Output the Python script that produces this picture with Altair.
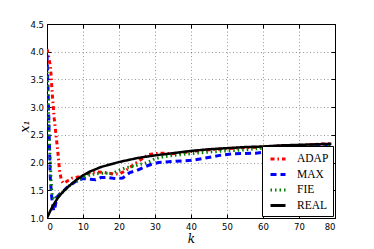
import altair as alt
import pandas as pd

series_names = ["ADAP", "MAX", "FIE", "REAL"]
series_colors = ["#ff0000", "#0000ff", "#008000", "#000000"]
series_dashes = [[4, 3, 1.5, 3], [6, 4], [1.5, 3], [1, 0]]

adap_k = [0, 0.5, 1, 1.5, 2, 2.5, 3, 3.5, 4, 4.5, 5, 6, 7, 8, 10, 12, 14, 16, 18, 20,
          22, 24, 26, 28, 30, 32, 35, 40, 45, 50, 55, 60, 65, 70, 75, 79]
adap_v = [4.05, 3.9, 3.7, 3.2, 2.8, 2.5, 2.2, 1.85, 1.68, 1.63, 1.64, 1.68, 1.72, 1.73, 1.76, 1.82,
          1.83, 1.82, 1.80, 1.79, 1.86, 1.96, 2.05, 2.14, 2.16, 2.17, 2.16, 2.20, 2.23, 2.25,
          2.27, 2.28, 2.30, 2.31, 2.33, 2.34]

max_k = [0, 0.3, 0.6, 0.9, 1.2, 1.5, 1.9, 2.3, 2.7, 3.5, 4.5, 5.5, 7, 8.5, 10, 12, 13.5, 15,
         17, 19, 21, 23, 25, 27, 29, 31, 35, 40, 43, 48, 52, 58, 62, 66, 70, 75, 79]
max_v = [3.95, 3.3, 2.5, 1.75, 1.45, 1.25, 1.13, 1.22, 1.37, 1.43, 1.48, 1.55, 1.62, 1.68, 1.71,
         1.70, 1.69, 1.73, 1.73, 1.71, 1.72, 1.82, 1.86, 1.92, 1.97, 2.0, 2.02, 2.04, 2.07, 2.13,
         2.16, 2.17, 2.20, 2.24, 2.27, 2.29, 2.30]

fie_k = [0, 0.3, 0.6, 0.9, 1.2, 1.5, 1.9, 2.5, 3.5, 5, 6.5, 8, 10, 12, 14, 16, 18, 20, 22, 24,
         26, 28, 30, 32, 35, 40, 45, 50, 55, 60, 65, 70, 75, 79]
fie_v = [3.72, 3.2, 2.5, 2.0, 1.6, 1.38, 1.33, 1.37, 1.42, 1.50, 1.60, 1.65, 1.72, 1.78, 1.80,
         1.81, 1.80, 1.86, 1.91, 1.93, 1.97, 2.0, 2.07, 2.10, 2.13, 2.16, 2.19, 2.21, 2.23, 2.26,
         2.28, 2.30, 2.31, 2.32]

real_k = [0, 1, 2, 3, 4, 5, 6, 8, 10, 12, 15, 20, 25, 30, 35, 40, 45, 50, 55, 60, 65, 70, 75, 79]
real_v = [1.00, 1.14, 1.26, 1.36, 1.44, 1.51, 1.57, 1.68, 1.77, 1.84, 1.92, 2.01, 2.08, 2.13,
          2.17, 2.21, 2.24, 2.26, 2.28, 2.29, 2.31, 2.32, 2.33, 2.34]

x_ticks = [0, 10, 20, 30, 40, 50, 60, 70, 80]
y_ticks = [1.0, 1.5, 2.0, 2.5, 3.0, 3.5, 4.0, 4.5]

frames = []
for name, ks, vs in [("ADAP", adap_k, adap_v), ("MAX", max_k, max_v),
                     ("FIE", fie_k, fie_v), ("REAL", real_k, real_v)]:
    frames.append(pd.DataFrame({"k": ks, "x1": vs, "series": name}))
df = pd.concat(frames, ignore_index=True)

xs = alt.Scale(domain=[0, 80], nice=False, zero=False)
ys = alt.Scale(domain=[1.0, 4.5], nice=False, zero=False)

legend = alt.Legend(
    orient="none", legendX=215, legendY=122, title=None,
    symbolType="stroke", symbolSize=225, symbolStrokeWidth=3,
    labelFont="Liberation Serif", labelFontSize=11.5, labelColor="black",
    padding=4, strokeColor="black", fillColor="white", cornerRadius=0,
    rowPadding=0.5, labelOffset=10, symbolOffset=3,
)
color = alt.Color("series:N", scale=alt.Scale(domain=series_names, range=series_colors), legend=legend)
dash = alt.StrokeDash("series:N", scale=alt.Scale(domain=series_names, range=series_dashes), legend=legend)

x_axis = alt.Axis(orient="bottom", values=x_ticks, format="d", labelFont="DejaVu Sans", labelFontSize=8.5,
                  labelColor="black", ticks=False, domain=False, labelPadding=4,
                  grid=True, gridColor="#000000", gridOpacity=0.5, gridDash=[1, 2.5], gridWidth=0.8,
                  title="k", titleFont="DejaVu Serif", titleFontStyle="italic",
                  titleFontWeight="normal", titleFontSize=12, titleColor="black",
                  titleY=24, titleBaseline="alphabetic")
y_axis = alt.Axis(orient="left", values=y_ticks, format=".1f", labelFont="DejaVu Sans", labelFontSize=8.5,
                  labelColor="black", ticks=False, domain=False, labelPadding=3.5,
                  grid=True, gridColor="#000000", gridOpacity=0.5, gridDash=[1, 2.5], gridWidth=0.8,
                  title="x₁", titleFont="DejaVu Serif", titleFontStyle="italic",
                  titleFontWeight="normal", titleFontSize=13, titleColor="black",
                  titleX=-23, titleY=102, titleAngle=270, titleBaseline="middle", titleAlign="center")


def line(name, width, with_axes):
    return alt.Chart(df).transform_filter(alt.datum.series == name).mark_line(
        strokeWidth=width, clip=True, strokeCap="butt"
    ).encode(
        x=alt.X("k:Q", scale=xs, axis=x_axis if with_axes else None),
        y=alt.Y("x1:Q", scale=ys, axis=y_axis if with_axes else None),
        color=color,
        strokeDash=dash,
    )


def tick_layer(xo, yo):
    return alt.Chart(df).mark_point(opacity=0).encode(
        x=alt.X("k:Q", scale=xs, axis=alt.Axis(orient=xo, offset=-4, tickSize=4, ticks=True,
                                               tickColor="black", labels=False, grid=False,
                                               domain=False, title=None, values=x_ticks)),
        y=alt.Y("x1:Q", scale=ys, axis=alt.Axis(orient=yo, offset=-4, tickSize=4, ticks=True,
                                                tickColor="black", labels=False, grid=False,
                                                domain=False, title=None, values=y_ticks)),
    )


chart = alt.layer(
    line("ADAP", 3, True), line("MAX", 3, False), line("FIE", 3, False), line("REAL", 2.5, False),
    tick_layer("bottom", "left"), tick_layer("top", "right"),
).resolve_axis(x="independent", y="independent").properties(
    width=288, height=194,
    autosize=alt.AutoSizeParams(type="none"),
    padding={"left": 39, "top": 16, "right": 28, "bottom": 27},
).configure_view(stroke="black", strokeWidth=1)

chart.save("out.html", embed_options={"renderer": "svg", "actions": False})
